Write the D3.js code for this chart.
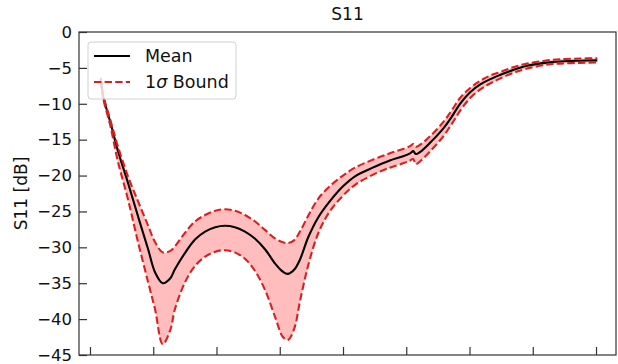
<!DOCTYPE html>
<html>
<head>
<meta charset="utf-8">
<script src="https://cdn.jsdelivr.net/npm/d3@7"></script>
<style>
  body { margin: 0; background: #fff; }
  svg text { font-family: 'DejaVu Sans', sans-serif; fill: #111; }
</style>
</head>
<body>
<div id="chart"></div>
<script>
// frequency axis in tick units (9 unlabeled ticks, 0..8)
const freq = [0.17, 0.21, 0.32, 0.44, 0.60, 0.76, 0.92, 1.03, 1.15, 1.27, 1.34, 1.50, 1.66,
  1.82, 1.98, 2.13, 2.29, 2.45, 2.61, 2.77, 2.93, 3.05, 3.13, 3.23, 3.32, 3.45, 3.61, 3.79,
  4.00, 4.19, 4.47, 4.74, 4.95, 5.06, 5.11, 5.15, 5.22, 5.38, 5.58, 5.72, 5.85, 6.01, 6.17,
  6.32, 6.48, 6.69, 6.91, 7.19, 7.43, 7.75, 8.02]

const meanDb = [-6.5, -9.0, -12.5, -16.5, -21.0, -25.7, -30.3, -33.5, -35.0, -34.3, -33.1, -30.8, -28.9,
  -27.8, -27.2, -27.0, -27.2, -27.8, -28.8, -30.3, -32.3, -33.4, -33.7, -33.1, -31.7, -28.6, -25.8, -23.6,
  -21.5, -20.1, -18.9, -17.9, -17.3, -16.9, -16.6, -17.0, -16.7, -15.4, -13.5, -11.8, -10.0, -8.4, -7.3,
  -6.6, -6.0, -5.3, -4.7, -4.3, -4.1, -4.0, -3.95]

const upperDb = [-6.4, -8.8, -12.2, -15.9, -20.1, -23.6, -27.0, -29.3, -30.7, -30.5, -29.9, -28.0, -26.4,
  -25.5, -24.9, -24.7, -24.9, -25.5, -26.4, -27.6, -28.8, -29.3, -29.4, -29.0, -27.8, -25.6, -23.2, -21.5,
  -20.0, -18.9, -17.8, -16.9, -16.3, -15.9, -15.6, -16.0, -15.7, -14.5, -12.6, -10.9, -9.2, -7.8, -6.8,
  -6.1, -5.6, -4.9, -4.4, -4.0, -3.8, -3.7, -3.65]

const lowerDb = [-6.6, -9.3, -13.0, -18.0, -23.3, -29.3, -34.9, -38.7, -43.5, -41.5, -38.7, -34.9, -32.6,
  -31.3, -30.6, -30.4, -30.7, -31.6, -33.3, -36.0, -39.8, -42.5, -42.9, -41.3, -37.5, -32.5, -28.0, -25.0,
  -22.8, -21.3, -19.9, -18.9, -18.3, -17.9, -17.7, -18.4, -18.0, -16.6, -14.6, -12.8, -11.0, -9.2, -8.0,
  -7.2, -6.5, -5.7, -5.1, -4.6, -4.4, -4.3, -4.25]

const xTicks = [0, 1, 2, 3, 4, 5, 6, 7, 8]
const yTicks = [0, -5, -10, -15, -20, -25, -30, -35, -40, -45]
const legendLabels = ['Mean', '1σ Bound']

const dimensions = {
  width: 618,
  height: 364,
  margins: { top: 32, right: 2, bottom: 9, left: 79 },
}
dimensions.ctrWidth = dimensions.width - dimensions.margins.left - dimensions.margins.right
dimensions.ctrHeight = dimensions.height - dimensions.margins.top - dimensions.margins.bottom

const RED = '#d9201f'
const DASH = '7.4,3.2'

const data = freq.map((f, i) => ({ f, mean: meanDb[i], hi: upperDb[i], lo: lowerDb[i] }))

const svg = d3.select('#chart')
  .append('svg')
  .attr('width', dimensions.width)
  .attr('height', dimensions.height)

const ctr = svg.append('g')
  .attr('transform', `translate(${dimensions.margins.left}, ${dimensions.margins.top})`)

const xScale = d3.scaleLinear()
  .domain([-0.174, 8.316])
  .range([0, dimensions.ctrWidth])

const yScale = d3.scaleLinear()
  .domain([-45, 0])
  .range([dimensions.ctrHeight, 0])

// band + lines
const curve = d3.curveCatmullRom.alpha(0.5)

const area = d3.area()
  .x(d => xScale(d.f))
  .y0(d => yScale(d.lo))
  .y1(d => yScale(d.hi))
  .curve(curve)

const line = key => d3.line()
  .x(d => xScale(d.f))
  .y(d => yScale(d[key]))
  .curve(curve)

ctr.append('path')
  .datum(data)
  .attr('d', area)
  .attr('fill', '#ff0000')
  .attr('fill-opacity', 0.26)

ctr.append('path')
  .datum(data)
  .attr('d', line('mean'))
  .attr('fill', 'none')
  .attr('stroke', '#000')
  .attr('stroke-width', 2.1)

;['hi', 'lo'].forEach(k => {
  ctr.append('path')
    .datum(data)
    .attr('d', line(k))
    .attr('fill', 'none')
    .attr('stroke', RED)
    .attr('stroke-width', 2.1)
    .attr('stroke-dasharray', DASH)
})

// axes, ticks pointing inward
const xAxis = d3.axisBottom(xScale)
  .tickValues(xTicks)
  .tickSizeInner(-8)
  .tickSizeOuter(0)
  .tickFormat('')

const xAxisGroup = ctr.append('g')
  .attr('transform', `translate(0, ${dimensions.ctrHeight})`)
  .call(xAxis)
xAxisGroup.select('.domain').remove()
xAxisGroup.selectAll('.tick line').attr('stroke', '#333').attr('stroke-width', 1.2)

const yAxis = d3.axisLeft(yScale)
  .tickValues(yTicks)
  .tickSizeInner(-8)
  .tickSizeOuter(0)
  .tickPadding(7)
  .tickFormat(d => d3.format('d')(d).replace('-', '\u2212'))

const yAxisGroup = ctr.append('g').call(yAxis)
yAxisGroup.select('.domain').remove()
yAxisGroup.selectAll('.tick line').attr('stroke', '#333').attr('stroke-width', 1.2)
yAxisGroup.selectAll('.tick text')
  .attr('font-size', 16.5)
  .attr('font-family', 'DejaVu Sans')
  .attr('fill', '#111')

// spines
ctr.append('rect')
  .attr('width', dimensions.ctrWidth)
  .attr('height', dimensions.ctrHeight)
  .attr('fill', 'none')
  .attr('stroke', '#333')
  .attr('stroke-width', 1.2)

// title and y label
svg.append('text')
  .attr('x', dimensions.margins.left + dimensions.ctrWidth / 2)
  .attr('y', 20)
  .attr('text-anchor', 'middle')
  .attr('font-size', 17)
  .text('S11')

svg.append('text')
  .attr('transform', `translate(27, ${dimensions.margins.top + dimensions.ctrHeight / 2}) rotate(-90)`)
  .attr('text-anchor', 'middle')
  .attr('font-size', 17)
  .text('S11 [dB]')

// legend
const legend = svg.append('g').attr('transform', 'translate(88, 42)')

legend.append('rect')
  .attr('width', 148)
  .attr('height', 57)
  .attr('rx', 3)
  .attr('fill', '#fff')
  .attr('fill-opacity', 0.8)
  .attr('stroke', '#d0d0d0')

legendLabels.forEach((label, i) => {
  const y = 14 + i * 26
  legend.append('line')
    .attr('x1', 6).attr('x2', 42)
    .attr('y1', y).attr('y2', y)
    .attr('stroke', i === 0 ? '#000' : RED)
    .attr('stroke-width', 2.1)
    .attr('stroke-dasharray', i === 0 ? null : DASH)

  const t = legend.append('text')
    .attr('x', 57)
    .attr('y', y + 6)
    .attr('font-size', 17.5)
  if (label.includes('σ')) {
    t.append('tspan').text('1')
    t.append('tspan').attr('font-style', 'italic').text('σ')
    t.append('tspan').text(' Bound')
  } else {
    t.text(label)
  }
})
</script>
</body>
</html>
